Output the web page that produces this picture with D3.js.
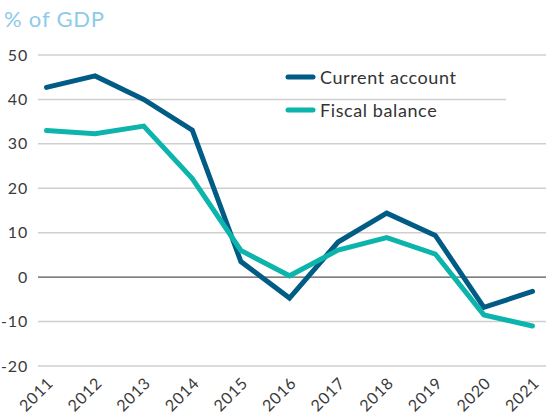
<!DOCTYPE html>
<html>
<head>
    <meta charset="utf-8">
    <title>% of GDP</title>
    <style>
        body { margin: 0; background: #fff; }
        text { font-family: Lato, "Open Sans", sans-serif; }
    </style>
</head>
<body>
    <script src="https://d3js.org/d3.v7.min.js"></script>
    <script>
    // data
    var years = ["2011", "2012", "2013", "2014", "2015", "2016", "2017", "2018", "2019", "2020", "2021"];
    var currentAccount = [42.7, 45.3, 40.0, 33.1, 3.5, -4.7, 7.9, 14.4, 9.4, -6.8, -3.2];
    var fiscalBalance = [33.0, 32.3, 34.0, 22.2, 6.0, 0.3, 6.1, 8.9, 5.2, -8.5, -11.0];
    var yTicks = [-20, -10, 0, 10, 20, 30, 40, 50];
    var seriesNames = ["Current account", "Fiscal balance"];
    var colors = ["#005b85", "#0db4ac"];

    const width = 546;
    const height = 417;

    const svg = d3.select("body")
        .append("svg")
        .attr("width", width)
        .attr("height", height);

    var x = d3.scalePoint()
        .domain(years)
        .range([46.5, 532.5]);

    var y = d3.scaleLinear()
        .domain([-20, 50])
        .range([366, 55]);

    // title
    svg.append("text")
        .attr("x", 4)
        .attr("y", 27)
        .attr("fill", "#8ccbe9")
        .attr("font-size", 22)
        .attr("letter-spacing", 0.8)
        .text("% of GDP");

    // gridlines
    svg.append("g")
        .selectAll("line")
        .data(yTicks)
        .enter()
        .append("line")
        .attr("x1", 38)
        .attr("x2", width)
        .attr("y1", function(d) { return y(d); })
        .attr("y2", function(d) { return y(d); })
        .attr("stroke", function(d) { return d === 0 ? "#555" : "#cfcfcf"; })
        .attr("stroke-width", function(d) { return d === 0 ? 1.2 : 1.5; });

    // y tick labels
    svg.append("g")
        .selectAll("text")
        .data(yTicks)
        .enter()
        .append("text")
        .attr("x", 28)
        .attr("y", function(d) { return y(d) + 5.5; })
        .attr("text-anchor", "end")
        .attr("fill", "#3a3a3a")
        .attr("font-size", 16)
        .attr("letter-spacing", 0.8)
        .text(function(d) { return d; });

    // x tick labels, rotated
    svg.append("g")
        .selectAll("text")
        .data(years)
        .enter()
        .append("text")
        .attr("transform", function(d) {
            return "translate(" + (x(d) + 8) + "," + 384 + ") rotate(-45)";
        })
        .attr("text-anchor", "end")
        .attr("fill", "#3a3a3a")
        .attr("font-size", 16)
        .attr("letter-spacing", 0.8)
        .text(function(d) { return d; });

    // legend background
    svg.append("rect")
        .attr("x", 506)
        .attr("y", 62)
        .attr("width", 40)
        .attr("height", 66)
        .attr("fill", "#fff");

    var line = d3.line()
        .x(function(d, i) { return x(years[i]); })
        .y(function(d) { return y(d); });

    [currentAccount, fiscalBalance].forEach(function(series, k) {
        svg.append("path")
            .datum(series)
            .attr("fill", "none")
            .attr("stroke", colors[k])
            .attr("stroke-width", 5)
            .attr("stroke-linejoin", "miter")
            .attr("stroke-linecap", "round")
            .attr("d", line);
    });

    // legend
    var legend = svg.append("g")
        .selectAll("g")
        .data(seriesNames)
        .enter()
        .append("g")
        .attr("transform", function(d, i) { return "translate(287," + (77 + i * 33) + ")"; });

    legend.append("line")
        .attr("x1", 1)
        .attr("x2", 26)
        .attr("stroke", function(d, i) { return colors[i]; })
        .attr("stroke-width", 5)
        .attr("stroke-linecap", "round");

    legend.append("text")
        .attr("x", 33)
        .attr("y", 6.5)
        .attr("fill", "#333")
        .attr("font-size", 18)
        .attr("letter-spacing", 0.6)
        .text(function(d) { return d; });
    </script>
</body>
</html>
